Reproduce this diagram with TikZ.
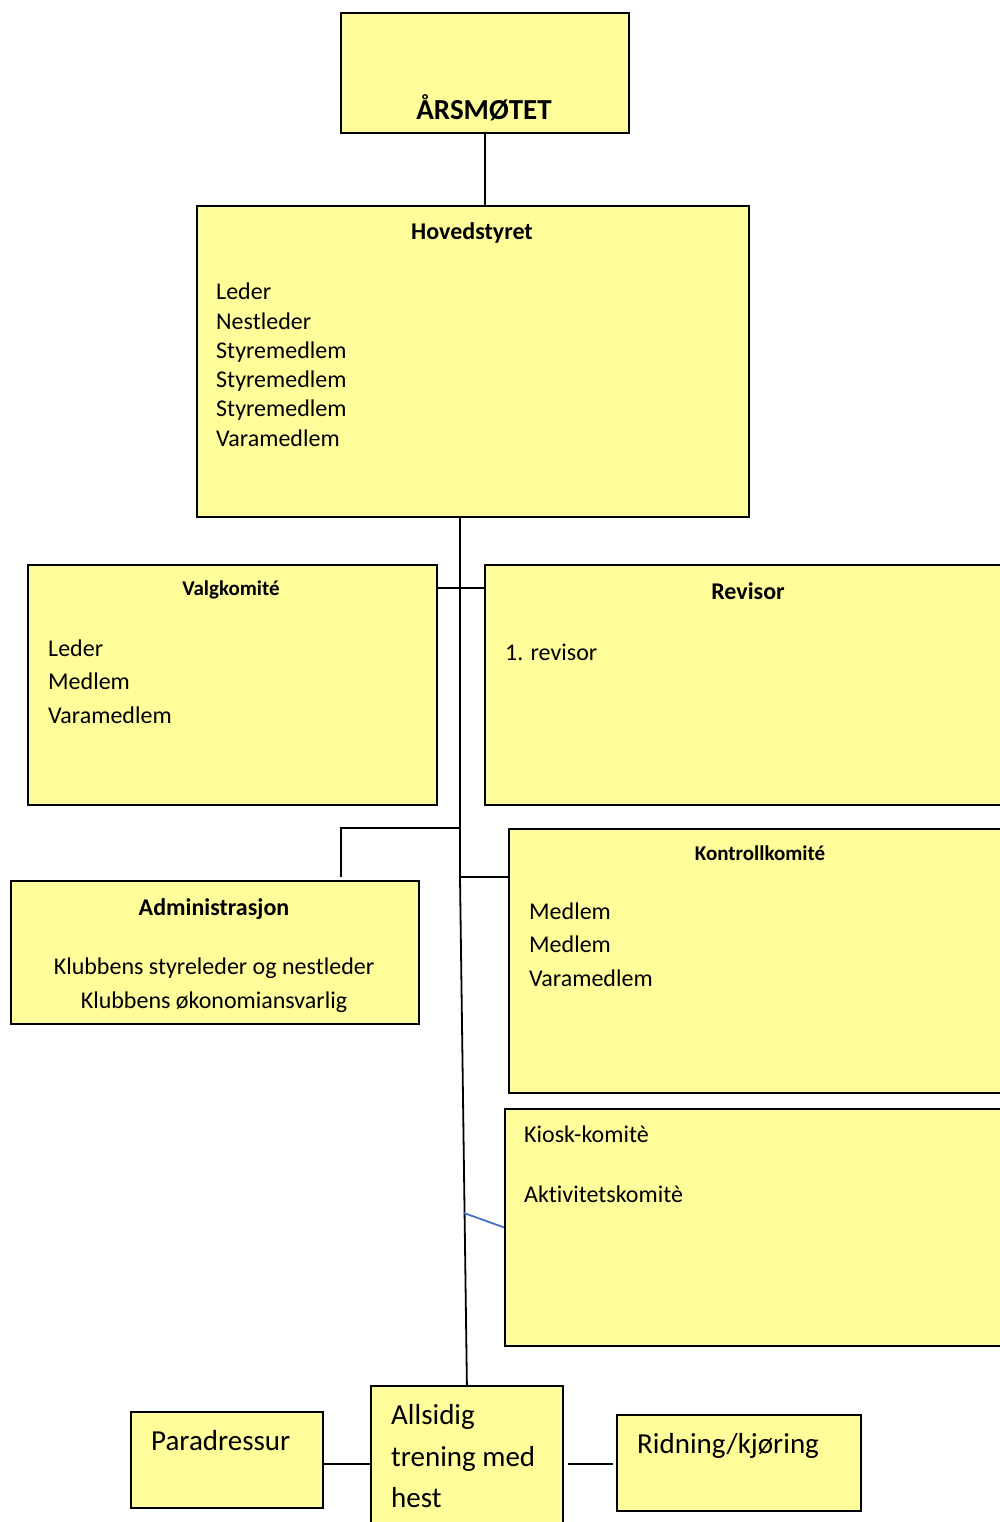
\documentclass[tikz,border=0pt]{standalone}
\usepackage{fontspec}
\setmainfont[Ligatures = CommonOff]{Carlito}
\usetikzlibrary{positioning}

\definecolor{boxyellow}{RGB}{255,253,154}
\definecolor{linkblue}{RGB}{68,114,196}

\tikzset{
  box/.style = {draw, line width = 1.8pt, fill = boxyellow, anchor = north west, inner sep = 0pt},
  txt/.style = {anchor = base west, inner sep = 0pt, font = \fontsize{24}{29}\selectfont},
  ctxt/.style = {anchor = base, inner sep = 0pt, font = \fontsize{24}{29}\selectfont},
  ttl/.style = {anchor = base, inner sep = 0pt, font = \bfseries\fontsize{24}{29}\selectfont},
  smallttl/.style = {anchor = base, inner sep = 0pt, font = \bfseries\fontsize{21}{25}\selectfont},
  bigtxt/.style = {anchor = base west, inner sep = 0pt, font = \fontsize{29}{35}\selectfont},
  link/.style = {black, line width = 1.8pt},
}

\begin{document}
\begin{tikzpicture}[x = 1pt, y = -1pt]
  \useasboundingbox (0, 0) rectangle (1000, 1522);

  % boxes
  \node[box, minimum width = 288, minimum height = 120] (aarsmote) at (340, 12) {};
  \node[box, minimum width = 552, minimum height = 311] (hoved) at (196, 205) {};
  \node[box, minimum width = 409, minimum height = 240] (valg) at (27, 564) {};
  \node[box, minimum width = 530, minimum height = 240] (revisor) at (484, 564) {};
  \node[box, minimum width = 408, minimum height = 143] (admin) at (10, 880) {};
  \node[box, minimum width = 510, minimum height = 264] (kontroll) at (508, 828) {};
  \node[box, minimum width = 510, minimum height = 237] (kiosk) at (504, 1108) {};
  \node[box, minimum width = 192, minimum height = 96] (parad) at (130, 1411) {};
  \node[box, minimum width = 192, minimum height = 160] (allsidig) at (370, 1385) {};
  \node[box, minimum width = 244, minimum height = 96] (ridning) at (616, 1414) {};

  % texts
  \node[anchor = base, inner sep = 0pt, font = \bfseries\fontsize{29}{35}\selectfont] (aarsmoteT) at (484, 120) {ÅRSMØTET};

  \node[ttl] (hovedT) at (472, 240) {Hovedstyret};
  \node[txt] (hoved1) at (216, 299) {Leder};
  \node[txt] (hoved2) at (216, 329) {Nestleder};
  \node[txt] (hoved3) at (216, 358) {Styremedlem};
  \node[txt] (hoved4) at (216, 387) {Styremedlem};
  \node[txt] (hoved5) at (216, 416) {Styremedlem};
  \node[txt] (hoved6) at (216, 446) {Varamedlem};

  \node[smallttl] (valgT) at (231, 595) {Valgkomité};
  \node[txt] (valg1) at (48, 656) {Leder};
  \node[txt] (valg2) at (48, 689) {Medlem};
  \node[txt] (valg3) at (48, 723) {Varamedlem};

  \node[ttl] (revisorT) at (748, 599) {Revisor};
  \node[txt] (revisor1) at (505, 660) {1. revisor};

  \node[ttl] (adminT) at (214, 915) {Administrasjon};
  \node[ctxt] (admin1) at (214, 974) {Klubbens styreleder og nestleder};
  \node[ctxt] (admin2) at (214, 1008) {Klubbens økonomiansvarlig};

  \node[smallttl] (kontrollT) at (760, 860) {Kontrollkomité};
  \node[txt] (kontroll1) at (529, 919) {Medlem};
  \node[txt] (kontroll2) at (529, 952) {Medlem};
  \node[txt] (kontroll3) at (529, 986) {Varamedlem};

  \node[txt] (kiosk1) at (524, 1142) {Kiosk-komitè};
  \node[txt] (kiosk2) at (524, 1202) {Aktivitetskomitè};

  \node[bigtxt] (paradT) at (151, 1450) {Paradressur};
  \node[bigtxt] (allsidig1) at (391, 1424) {Allsidig};
  \node[bigtxt] (allsidig2) at (391, 1466) {trening med};
  \node[bigtxt] (allsidig3) at (391, 1507) {hest};
  \node[bigtxt] (ridningT) at (637, 1453) {Ridning/kjøring};

  % trunk points
  \coordinate (trunkA) at (460, 516);
  \coordinate (trunkC) at (460, 588);
  \coordinate (trunkD) at (460, 828);
  \coordinate (trunkB) at (460, 877);
  \coordinate (trunkE) at (464, 1213);

  % connectors
  \draw[link] (aarsmote.south) -- (aarsmote.south |- hoved.north);
  \draw[link] (trunkA) -- (trunkB) -- (allsidig.north);
  \draw[link] (valg.east |- trunkC) -- (revisor.west |- trunkC);
  \draw[link] (trunkD) -| ([xshift = 126pt, yshift = 3pt]admin.north);
  \draw[link] (trunkB) -- (kontroll.west |- trunkB);
  \draw[linkblue, line width = 1.8pt] (trunkE) -- (kiosk.west);
  \draw[link] (parad.east |- 0, 1464) -- (allsidig.west |- 0, 1464);
  \draw[link] ([xshift = 4pt]allsidig.east |- 0, 1464) -- ([xshift = -3pt]ridning.west |- 0, 1464);
\end{tikzpicture}
\end{document}
